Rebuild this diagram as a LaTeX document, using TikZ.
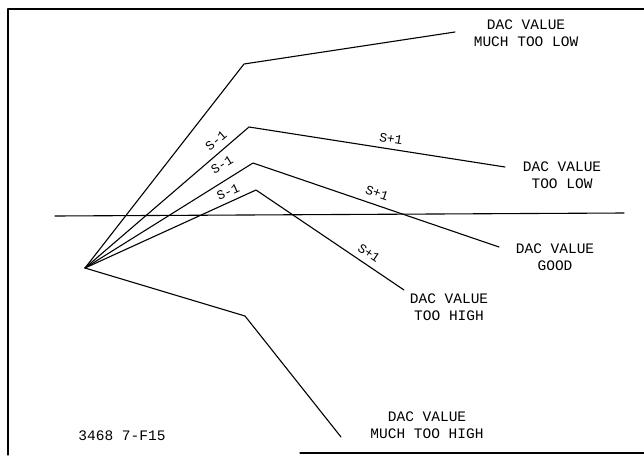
\documentclass[tikz,border=0pt]{standalone}
\usepackage{fontspec}
\setmonofont{Liberation Mono}
\usetikzlibrary{positioning}

\begin{document}
\begin{tikzpicture}[
        x=1pt, y=-1pt,
        line cap=round,
        line join=round,
        line width=1.1pt,
        lbl/.style={font=\ttfamily\fontsize{14.5}{16.5}\selectfont, align=center, inner sep=0pt},
        stp/.style={font=\ttfamily\fontsize{13}{15}\selectfont, inner sep=0pt}
    ]
        \useasboundingbox (0,0) rectangle (644,455);

        % cornice
        \coordinate (f1) at (8,455);
        \coordinate (f2) at (8,9);
        \coordinate (f3) at (644,9);
        \coordinate (f4) at (300,453);
        \coordinate (f5) at (644,453);
        \draw (f1)--(f2)--(f3);
        \draw (f4)--(f5);

        % livello di riferimento
        \coordinate (h1) at (55,216);
        \coordinate (h2) at (624,213);
        \draw (h1)--(h2);

        % origine comune
        \coordinate (o) at (85,268);

        % vertici e fine dei percorsi
        \coordinate (a1) at (244,64);   \coordinate (a2) at (455,32);
        \coordinate (b1) at (249,127);  \coordinate (b2) at (505,167);
        \coordinate (c1) at (253,163);  \coordinate (c2) at (499,247);
        \coordinate (d1) at (256,190);  \coordinate (d2) at (404,290);
        \coordinate (e1) at (245,316);  \coordinate (e2) at (341,437);

        \foreach \p in {a,b,c,d,e}{
            \draw (o)--(\p1)--(\p2);
        }

        % etichette dei passi
        \node[stp, rotate=41] (sm1) at (216,141) {S-1};
        \node[stp, rotate=32] (sm2) at (222,165) {S-1};
        \node[stp, rotate=24] (sm3) at (228,192) {S-1};
        \node[stp, rotate=-9]  (sp1) at (391,139) {S+1};
        \node[stp, rotate=-19] (sp2) at (377,193) {S+1};
        \node[stp, rotate=-34] (sp3) at (369,253) {S+1};

        % esiti
        \node[lbl] (la) at (526,33)  {DAC VALUE\\MUCH TOO LOW};
        \node[lbl] (lb) at (562,175) {DAC VALUE\\TOO LOW};
        \node[lbl] (lc) at (555,257) {DAC VALUE\\GOOD};
        \node[lbl] (ld) at (449,307) {DAC VALUE\\TOO HIGH};
        \node[lbl] (le) at (427,425) {DAC VALUE\\MUCH TOO HIGH};

        \node[lbl] (fig) at (122,436) {3468 7-F15};
    \end{tikzpicture}
\end{document}
